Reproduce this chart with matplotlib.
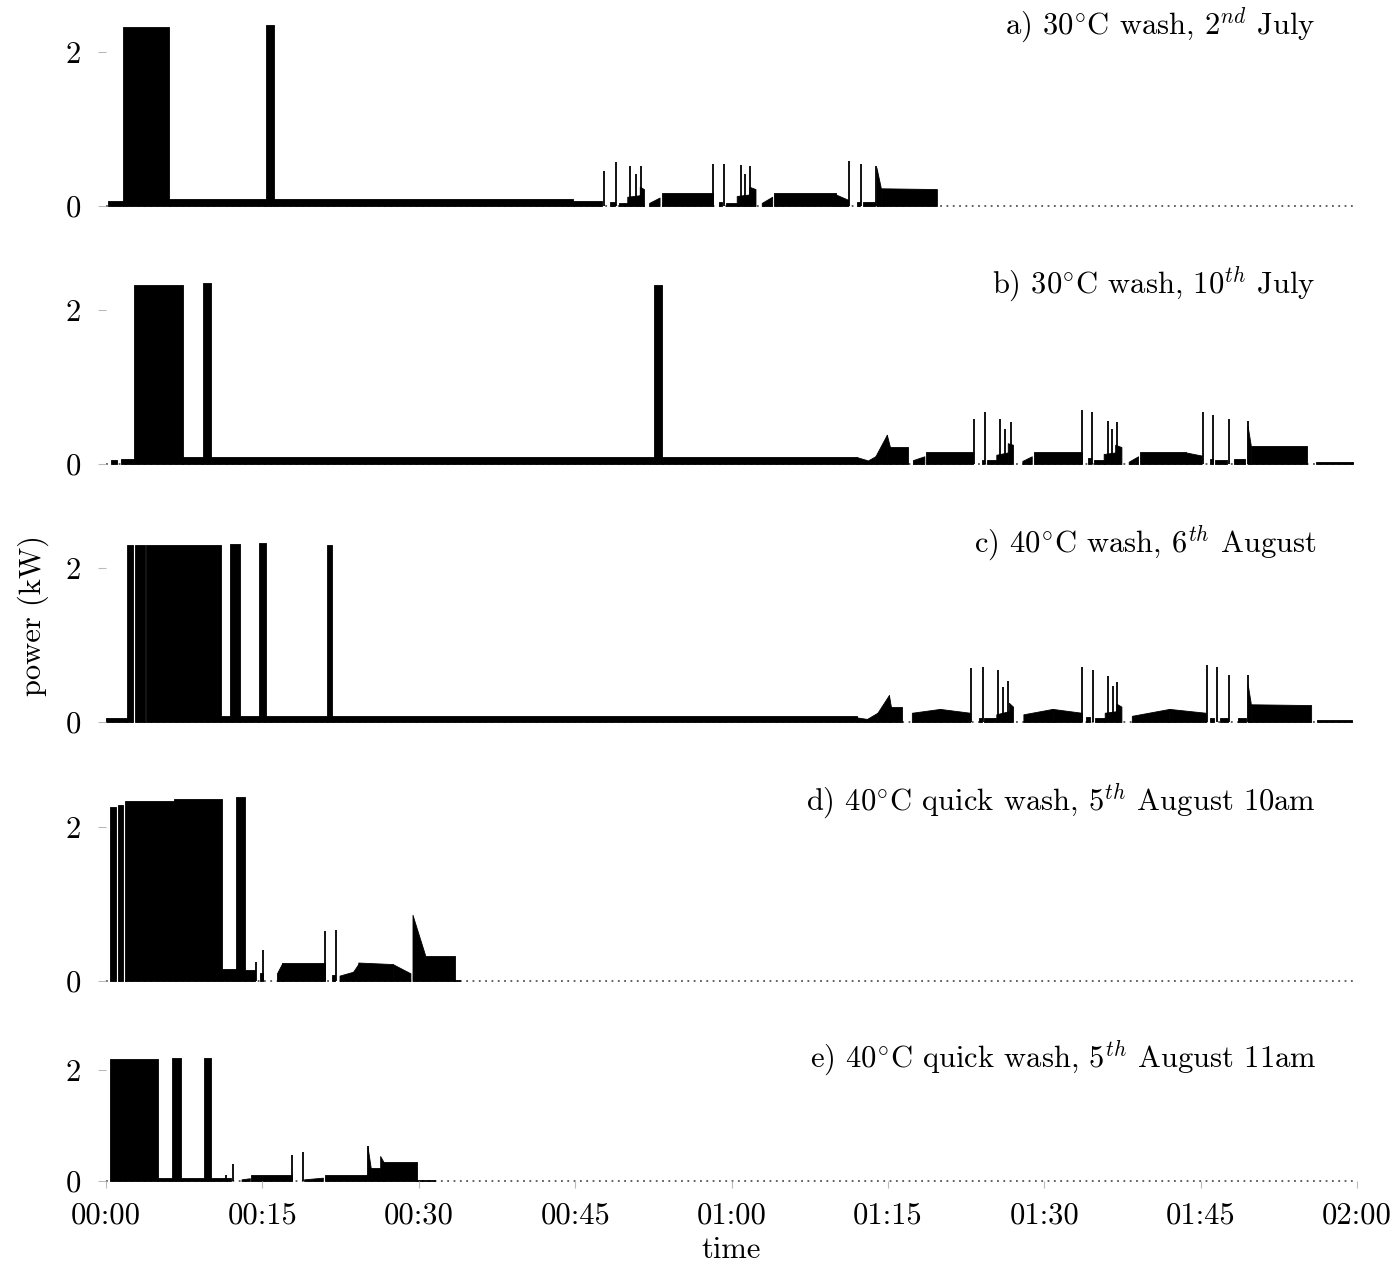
import matplotlib
matplotlib.use("Agg")
import matplotlib.pyplot as plt

plt.rcParams['font.family'] = ['cmr10', 'DejaVu Serif']
plt.rcParams['mathtext.fontset'] = 'cm'
plt.rcParams['axes.formatter.use_mathtext'] = True

# ---------------- data (minutes, kW) ----------------
# segments: (t_start, t_end, power_start, power_end)
seg_a = [(0.2, 1.6, 0.06, 0.06), (1.6, 6.0, 2.32, 2.32), (6.0, 15.35, 0.09, 0.09),
         (15.35, 16.1, 2.35, 2.35), (16.1, 44.8, 0.09, 0.09), (44.8, 47.6, 0.06, 0.06),
         (48.3, 48.8, 0.05, 0.05), (49.2, 50.0, 0.04, 0.04), (50.0, 51.2, 0.12, 0.14),
         (51.2, 51.6, 0.25, 0.22), (52.1, 53.1, 0.04, 0.11), (53.3, 58.2, 0.17, 0.17),
         (58.8, 59.1, 0.05, 0.05), (59.5, 60.5, 0.04, 0.04), (60.5, 61.7, 0.13, 0.15),
         (61.7, 62.3, 0.25, 0.22), (62.9, 63.9, 0.04, 0.12), (64.1, 70.0, 0.17, 0.17),
         (70.0, 71.2, 0.15, 0.08), (72.0, 72.3, 0.05, 0.05), (72.6, 73.8, 0.05, 0.05),
         (73.9, 74.3, 0.5, 0.25), (74.3, 79.7, 0.23, 0.22)]
spk_a = [(47.8, 0.46), (48.9, 0.57), (50.3, 0.52), (50.8, 0.41), (51.3, 0.52),
         (58.2, 0.55), (59.3, 0.55), (60.9, 0.53), (61.3, 0.42), (61.8, 0.52),
         (71.3, 0.58), (72.4, 0.55), (73.9, 0.52)]

seg_b = [(0.5, 1.1, 0.05, 0.05), (1.45, 2.65, 0.07, 0.07), (2.65, 7.4, 2.32, 2.32),
         (7.4, 9.33, 0.09, 0.09), (9.33, 10.07, 2.35, 2.35), (10.07, 52.55, 0.09, 0.09),
         (52.55, 53.3, 2.33, 2.33), (53.3, 72.0, 0.09, 0.09), (72.0, 73.0, 0.09, 0.05),
         (73.0, 73.8, 0.04, 0.1), (73.8, 74.9, 0.1, 0.38), (74.9, 75.2, 0.38, 0.22),
         (75.2, 76.9, 0.22, 0.22), (77.4, 78.5, 0.05, 0.1), (78.7, 83.2, 0.16, 0.16),
         (84.0, 84.2, 0.05, 0.05), (84.5, 85.4, 0.05, 0.05), (85.4, 86.5, 0.12, 0.15),
         (86.5, 87.0, 0.27, 0.25), (87.9, 88.8, 0.04, 0.1), (89.0, 93.6, 0.16, 0.16),
         (94.2, 94.5, 0.08, 0.08), (94.8, 95.7, 0.05, 0.05), (95.7, 96.8, 0.13, 0.15),
         (96.8, 97.4, 0.25, 0.22), (98.1, 99.0, 0.03, 0.1), (99.2, 103.6, 0.16, 0.16),
         (103.6, 105.1, 0.15, 0.11), (105.9, 106.2, 0.07, 0.07), (106.4, 107.5, 0.05, 0.05),
         (108.2, 109.3, 0.06, 0.06), (109.5, 109.8, 0.5, 0.25), (109.8, 115.2, 0.23, 0.23),
         (116.1, 119.6, 0.02, 0.02)]
spk_b = [(83.3, 0.59), (84.3, 0.68), (85.8, 0.58), (86.2, 0.45), (86.8, 0.54),
         (93.6, 0.70), (94.6, 0.67), (96.1, 0.56), (96.5, 0.46), (97.0, 0.54),
         (105.2, 0.68), (106.2, 0.64), (107.7, 0.58), (109.5, 0.56)]

seg_c = [(0.0, 2.05, 0.05, 0.05), (2.05, 2.6, 2.3, 2.3), (2.75, 3.7, 2.3, 2.3),
         (3.85, 11.0, 2.3, 2.3), (11.0, 11.9, 0.08, 0.08), (11.9, 12.85, 2.31, 2.31),
         (12.85, 14.7, 0.08, 0.08), (14.7, 15.35, 2.32, 2.32), (15.35, 21.2, 0.08, 0.08),
         (21.2, 21.7, 2.3, 2.3), (21.7, 72.0, 0.08, 0.08), (72.0, 73.0, 0.06, 0.04),
         (73.0, 74.0, 0.04, 0.12), (74.0, 75.1, 0.12, 0.35), (75.1, 75.3, 0.35, 0.19),
         (75.3, 76.4, 0.19, 0.19), (77.3, 80.0, 0.12, 0.17), (80.0, 82.9, 0.17, 0.12),
         (83.7, 84.0, 0.05, 0.05), (84.2, 85.4, 0.05, 0.05), (85.4, 86.6, 0.1, 0.14),
         (86.6, 87.0, 0.25, 0.2), (88.0, 90.8, 0.1, 0.17), (90.8, 93.6, 0.17, 0.12),
         (94.0, 94.4, 0.06, 0.06), (94.9, 95.8, 0.05, 0.05), (95.8, 96.9, 0.12, 0.14),
         (96.9, 97.4, 0.24, 0.2), (98.4, 102.0, 0.08, 0.17), (102.0, 105.5, 0.17, 0.12),
         (105.9, 106.3, 0.05, 0.05), (106.9, 107.6, 0.05, 0.05), (108.6, 109.4, 0.05, 0.05),
         (109.5, 109.8, 0.5, 0.25), (109.8, 115.6, 0.23, 0.22), (116.2, 119.5, 0.02, 0.02)]
spk_c = [(83.0, 0.70), (84.1, 0.71), (85.6, 0.67), (86.0, 0.46), (86.5, 0.53),
         (93.6, 0.72), (94.7, 0.68), (96.1, 0.60), (96.6, 0.47), (97.0, 0.52),
         (105.6, 0.74), (106.6, 0.72), (107.7, 0.61), (109.5, 0.61)]

seg_d = [(0.4, 0.96, 2.26, 2.26), (1.15, 1.6, 2.29, 2.29), (1.8, 6.5, 2.34, 2.34),
         (6.5, 11.1, 2.37, 2.37), (11.1, 12.5, 0.15, 0.15), (12.5, 13.3, 2.39, 2.39),
         (13.3, 14.3, 0.14, 0.14), (14.8, 15.1, 0.1, 0.1), (16.4, 16.9, 0.1, 0.23),
         (16.9, 21.0, 0.23, 0.23), (21.7, 22.0, 0.08, 0.08), (22.4, 23.7, 0.07, 0.12),
         (23.7, 24.2, 0.12, 0.22), (24.2, 27.5, 0.24, 0.22), (27.5, 29.2, 0.22, 0.1),
         (29.4, 30.6, 0.86, 0.34), (30.6, 33.5, 0.33, 0.33), (33.5, 34.0, 0.01, 0.01)]
spk_d = [(14.35, 0.25), (15.1, 0.40), (21.05, 0.65), (22.1, 0.66)]

seg_e = [(0.4, 5.0, 2.19, 2.19), (5.0, 6.3, 0.06, 0.06), (6.3, 7.15, 2.21, 2.21),
         (7.15, 9.4, 0.06, 0.06), (9.4, 10.1, 2.22, 2.22), (10.1, 12.0, 0.05, 0.05),
         (13.0, 13.8, 0.03, 0.05), (13.9, 17.8, 0.11, 0.11), (19.0, 20.8, 0.03, 0.06),
         (21.0, 25.0, 0.1, 0.1), (25.1, 25.4, 0.6, 0.23), (25.4, 26.3, 0.23, 0.23),
         (26.3, 26.6, 0.45, 0.35), (26.6, 29.8, 0.35, 0.35), (29.8, 31.6, 0.01, 0.01)]
spk_e = [(11.5, 0.10), (12.15, 0.30), (17.8, 0.47), (18.9, 0.52), (25.1, 0.63)]

titles = [r'a) 30$^{\circ}$C wash, 2$^{nd}$ July',
          r'b) 30$^{\circ}$C wash, 10$^{th}$ July',
          r'c) 40$^{\circ}$C wash, 6$^{th}$ August',
          r'd) 40$^{\circ}$C quick wash, 5$^{th}$ August 10am',
          r'e) 40$^{\circ}$C quick wash, 5$^{th}$ August 11am']
segments = [seg_a, seg_b, seg_c, seg_d, seg_e]
spikes = [spk_a, spk_b, spk_c, spk_d, spk_e]

xticks = [0, 15, 30, 45, 60, 75, 90, 105, 120]
xticklabels = ['00:00', '00:15', '00:30', '00:45', '01:00', '01:15', '01:30', '01:45', '02:00']
yticks = [0, 2]

# ---------------- layout ----------------
W, H = 1400, 1266
fig = plt.figure(figsize=(W / 100, H / 100), dpi=100)
left, right = 106 / W, 1357 / W
zero_px = [206, 464, 722, 981, 1181]
px_per_kw = [77, 77, 77, 77, 55.5]
ytop = 2.5
title_y = [25, 284, 543, 801, 1058]

FS = 22
axes = []
for i in range(5):
    hpx = ytop * px_per_kw[i]
    bottom = 1 - zero_px[i] / H
    ax = fig.add_axes([left, bottom, right - left, hpx / H])
    ax.set_clip_on(False)
    axes.append(ax)
    for (t0, t1, p0, p1) in segments[i]:
        ax.fill_between([t0, t1], [p0, p1], 0, color='black', lw=0.6, edgecolor='black')
    for (t, p) in spikes[i]:
        ax.vlines(t, 0, p, color='black', lw=1.3)
    ax.axhline(0, color='#555555', lw=1.3, ls=(0, (1, 2.5)), zorder=0, clip_on=False)
    ax.set_xlim(0, 120)
    ax.set_ylim(0, ytop)
    for s in ax.spines.values():
        s.set_visible(False)
    ax.set_yticks(yticks)
    ax.set_yticklabels([str(v) for v in yticks], fontsize=FS)
    ax.tick_params(axis='y', length=6, width=0.8, color='#bbbbbb', pad=12)
    ax.set_xticks(xticks)
    if i < 4:
        ax.tick_params(axis='x', length=0, labelbottom=False)
    else:
        ax.set_xticklabels(xticklabels, fontsize=FS)
        ax.tick_params(axis='x', length=5, width=0.8, color='#bbbbbb', pad=10)
    fig.text(1316 / W, 1 - title_y[i] / H, titles[i], fontsize=FS,
             ha='right', va='center')

fig.text(731 / W, 1 - 1250 / H, 'time', fontsize=FS, ha='center', va='center')
fig.text(33 / W, 1 - 615 / H, 'power (kW)', fontsize=FS, ha='center', va='center',
         rotation=90)

fig.savefig('out.png', dpi=100)
